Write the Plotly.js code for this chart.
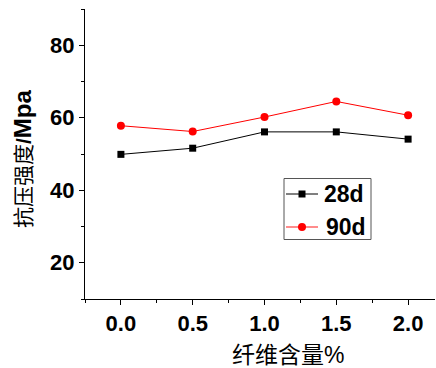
<!DOCTYPE html>
<html>
<head>
<meta charset="utf-8">
<script src="https://cdn.plot.ly/plotly-3.0.1.min.js"></script>
<style>
  html, body { margin: 0; padding: 0; background: #fff; }
  #chart { width: 436px; height: 368px; }
</style>
</head>
<body>
<div id="chart"></div>
<script>
// Fibre content (%) and compressive strength (MPa) at two curing ages
const fiberContent = [0.0, 0.5, 1.0, 1.5, 2.0];
const strength28d = [49.9, 51.6, 56.1, 56.1, 54.1];
const strength90d = [57.8, 56.2, 60.2, 64.5, 60.7];
const seriesNames = ['28d', '90d'];
const seriesColors = ['#000000', '#ff0000'];
const xTickVals = [0.0, 0.5, 1.0, 1.5, 2.0];
const xTickText = ['0.0', '0.5', '1.0', '1.5', '2.0'];
const yTickVals = [20, 40, 60, 80];

const latinBold = 'Liberation Sans, Arial, sans-serif';
const cjk = 'Liberation Sans, Noto Sans CJK SC, sans-serif';

// plot-area geometry (pixels) used to place the legend box in paper units
const M = { l: 85, r: 1, t: 9, b: 69 };
const W = 436, H = 368;
const PW = W - M.l - M.r, PH = H - M.t - M.b;
const px = v => (v - M.l) / PW;
const py = v => (H - M.b - v) / PH;

const traces = [
  {
    x: fiberContent, y: strength28d, name: seriesNames[0],
    type: 'scatter', mode: 'lines+markers',
    line: { color: seriesColors[0], width: 1 },
    marker: { symbol: 'square', size: 7, color: seriesColors[0] }
  },
  {
    x: fiberContent, y: strength90d, name: seriesNames[1],
    type: 'scatter', mode: 'lines+markers',
    line: { color: seriesColors[1], width: 1 },
    marker: { symbol: 'circle', size: 8, color: seriesColors[1] }
  }
];

// hand-built legend: frame, sample lines, sample markers, labels
const legendRows = [194, 227];
const shapes = [
  { type: 'rect', xref: 'paper', yref: 'paper',
    x0: px(284), x1: px(371), y0: py(178.5), y1: py(239.5),
    line: { color: '#555555', width: 1 }, fillcolor: '#ffffff', layer: 'above' }
];
const annotations = [];
legendRows.forEach((ry, i) => {
  shapes.push({ type: 'line', xref: 'paper', yref: 'paper',
    x0: px(286), x1: px(318), y0: py(ry), y1: py(ry),
    line: { color: i === 0 ? '#000000' : '#ff7070', width: i === 0 ? 1 : 1.6 }, layer: 'above' });
  if (i === 0) {
    shapes.push({ type: 'rect', xref: 'paper', yref: 'paper',
      x0: px(298.5), x1: px(305.5), y0: py(ry + 3.5), y1: py(ry - 3.5),
      line: { width: 0 }, fillcolor: seriesColors[0], layer: 'above' });
  } else {
    shapes.push({ type: 'circle', xref: 'paper', yref: 'paper',
      x0: px(298), x1: px(306), y0: py(ry + 4), y1: py(ry - 4),
      line: { width: 0 }, fillcolor: seriesColors[1], layer: 'above' });
  }
  annotations.push({
    text: '<b>' + seriesNames[i] + '</b>', xref: 'paper', yref: 'paper',
    x: px(i === 0 ? 322 : 324), y: py(ry), xanchor: 'left', yanchor: 'middle',
    showarrow: false, font: { family: latinBold, size: 23, color: '#000' }
  });
});

annotations.push(
  {
    text: '纤维含量%', xref: 'paper', yref: 'paper',
    x: px(288), y: py(355),
    xanchor: 'center', yanchor: 'middle', showarrow: false,
    font: { family: cjk, size: 23, color: '#000' }
  },
  {
    text: '抗压强度<b>/</b><span style="font-size:24px"><b>Mpa</b></span>', xref: 'paper', yref: 'paper',
    x: px(23), y: py(159),
    xanchor: 'center', yanchor: 'middle', showarrow: false, textangle: -90,
    font: { family: cjk, size: 21, color: '#000' }
  }
);

const layout = {
  width: W, height: H,
  margin: M,
  paper_bgcolor: '#ffffff', plot_bgcolor: '#ffffff',
  showlegend: false,
  xaxis: {
    range: [-0.25, -0.25 + PW / 143.6],
    tickmode: 'array', tickvals: xTickVals, ticktext: xTickText,
    ticks: 'outside', ticklen: 5, tickcolor: '#000', tickwidth: 1,
    minor: { dtick: 0.25, tick0: 0, ticks: 'outside', ticklen: 3, tickcolor: '#000', showgrid: false },
    showline: true, linecolor: '#000', linewidth: 1, mirror: false,
    showgrid: false, zeroline: false,
    tickfont: { family: latinBold, size: 22, color: '#000', weight: 'bold' }
  },
  yaxis: {
    range: [10, 90],
    tickmode: 'array', tickvals: yTickVals,
    ticks: 'outside', ticklen: 5, tickcolor: '#000', tickwidth: 1,
    minor: { dtick: 10, tick0: 0, ticks: 'outside', ticklen: 3, tickcolor: '#000', showgrid: false },
    showline: true, linecolor: '#000', linewidth: 1, mirror: false,
    showgrid: false, zeroline: false,
    tickfont: { family: latinBold, size: 22, color: '#000', weight: 'bold' }
  },
  shapes: shapes,
  annotations: annotations
};

Plotly.newPlot('chart', traces, layout, { staticPlot: true, displayModeBar: false });
</script>
</body>
</html>
